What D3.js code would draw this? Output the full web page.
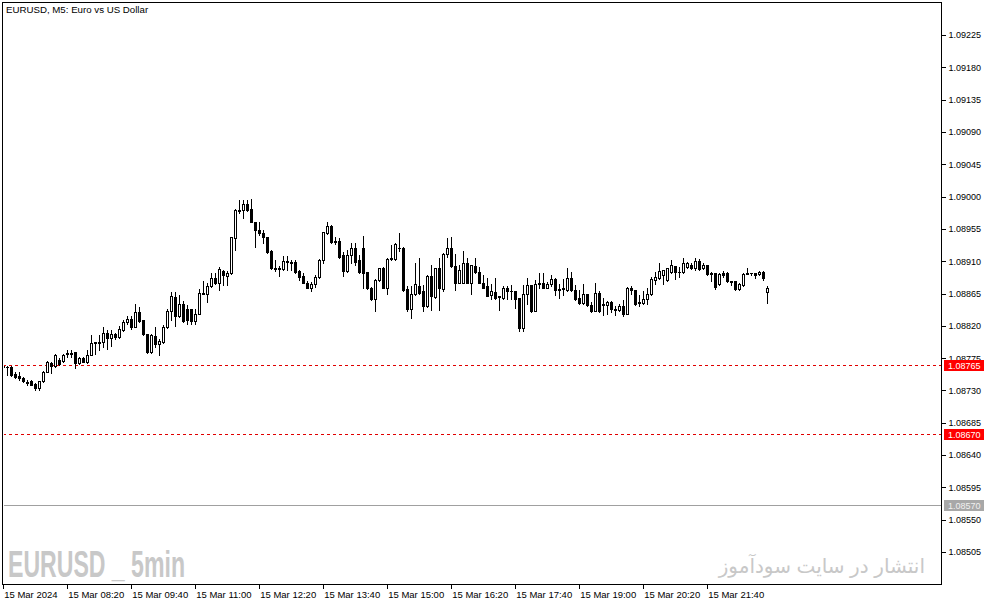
<!DOCTYPE html>
<html>
<head>
<meta charset="utf-8">
<script src="https://cdn.jsdelivr.net/npm/d3@7"></script>
<style>
  html, body { margin: 0; padding: 0; background: #ffffff; }
  svg { display: block; }
  text { font-family: "Liberation Sans", "DejaVu Sans", sans-serif; }
</style>
</head>
<body>
<svg id="chart" width="994" height="605"></svg>
<script>
// ---------------- data (EURUSD M5, 15 Mar 2024) ----------------
const chartTitle = "EURUSD, M5:  Euro vs US Dollar";
const startTime = new Date(2024, 2, 15, 7, 0);
const barMinutes = 5;

const openPrices = [
 1.08763,1.08763,1.08763,1.08753,1.08750,1.08748,1.08742,1.08743,1.08739,1.08734,
 1.08743,1.08756,1.08768,1.08764,1.08772,1.08771,1.08781,1.08782,1.08783,1.08768,
 1.08775,1.08770,1.08780,1.08796,1.08796,1.08798,1.08810,1.08803,1.08808,1.08804,
 1.08814,1.08825,1.08829,1.08818,1.08839,1.08828,1.08808,1.08783,1.08806,1.08795,
 1.08798,1.08818,1.08841,1.08860,1.08833,1.08850,1.08843,1.08843,1.08827,1.08837,
 1.08865,1.08865,1.08876,1.08887,1.08880,1.08896,1.08890,1.08893,1.08942,1.08981,
 1.08981,1.08990,1.08983,1.08964,1.08954,1.08949,1.08943,1.08924,1.08900,1.08900,
 1.08899,1.08910,1.08909,1.08909,1.08896,1.08889,1.08880,1.08873,1.08878,1.08888,
 1.08912,1.08949,1.08959,1.08938,1.08938,1.08918,1.08897,1.08918,1.08928,1.08911,
 1.08928,1.08895,1.08873,1.08857,1.08884,1.08900,1.08872,1.08913,1.08913,1.08929,
 1.08929,1.08871,1.08844,1.08864,1.08876,1.08868,1.08847,1.08889,1.08860,1.08900,
 1.08871,1.08920,1.08929,1.08903,1.08880,1.08880,1.08908,1.08880,1.08903,1.08895,
 1.08880,1.08875,1.08863,1.08867,1.08861,1.08859,1.08873,1.08869,1.08869,1.08859,
 1.08817,1.08865,1.08877,1.08841,1.08878,1.08879,1.08873,1.08878,1.08885,1.08871,
 1.08871,1.08870,1.08887,1.08870,1.08859,1.08852,1.08864,1.08849,1.08841,1.08866,
 1.08850,1.08849,1.08853,1.08843,1.08842,1.08847,1.08836,1.08873,1.08870,1.08853,
 1.08852,1.08857,1.08864,1.08884,1.08887,1.08891,1.08884,1.08895,1.08903,1.08895,
 1.08895,1.08902,1.08905,1.08900,1.08910,1.08900,1.08904,1.08893,1.08893,1.08878,
 1.08893,1.08893,1.08882,1.08882,1.08871,1.08877,1.08893,1.08893,1.08893,1.08892,
 1.08895,1.08867];

const highPrices = [
 1.08765,1.08764,1.08764,1.08755,1.08756,1.08749,1.08745,1.08744,1.08740,1.08743,
 1.08757,1.08771,1.08769,1.08781,1.08775,1.08781,1.08787,1.08786,1.08784,1.08777,
 1.08776,1.08786,1.08807,1.08798,1.08807,1.08818,1.08814,1.08814,1.08810,1.08820,
 1.08828,1.08833,1.08833,1.08850,1.08846,1.08828,1.08809,1.08809,1.08819,1.08802,
 1.08821,1.08843,1.08867,1.08867,1.08863,1.08854,1.08849,1.08844,1.08844,1.08871,
 1.08883,1.08879,1.08893,1.08893,1.08902,1.08898,1.08897,1.08944,1.08982,1.08995,
 1.08995,1.08995,1.08996,1.08965,1.08965,1.08953,1.08943,1.08925,1.08912,1.08903,
 1.08917,1.08917,1.08911,1.08911,1.08898,1.08893,1.08883,1.08881,1.08891,1.08913,
 1.08951,1.08964,1.08960,1.08944,1.08942,1.08923,1.08925,1.08936,1.08935,1.08918,
 1.08945,1.08895,1.08874,1.08885,1.08901,1.08902,1.08914,1.08932,1.08935,1.08949,
 1.08930,1.08875,1.08875,1.08907,1.08914,1.08877,1.08891,1.08905,1.08901,1.08914,
 1.08921,1.08942,1.08943,1.08920,1.08905,1.08924,1.08914,1.08905,1.08914,1.08902,
 1.08891,1.08887,1.08878,1.08886,1.08862,1.08875,1.08875,1.08877,1.08869,1.08859,
 1.08877,1.08886,1.08877,1.08884,1.08893,1.08893,1.08881,1.08891,1.08886,1.08878,
 1.08885,1.08901,1.08895,1.08877,1.08870,1.08878,1.08865,1.08853,1.08879,1.08868,
 1.08859,1.08855,1.08854,1.08847,1.08851,1.08856,1.08874,1.08875,1.08870,1.08863,
 1.08868,1.08872,1.08888,1.08895,1.08908,1.08898,1.08900,1.08912,1.08903,1.08902,
 1.08914,1.08909,1.08908,1.08914,1.08913,1.08908,1.08905,1.08895,1.08894,1.08893,
 1.08896,1.08895,1.08882,1.08882,1.08879,1.08893,1.08900,1.08894,1.08894,1.08897,
 1.08896,1.08875];

const lowPrices = [
 1.08762,1.08752,1.08750,1.08748,1.08745,1.08742,1.08738,1.08737,1.08731,1.08731,
 1.08742,1.08755,1.08754,1.08763,1.08766,1.08769,1.08777,1.08777,1.08761,1.08767,
 1.08769,1.08768,1.08779,1.08781,1.08786,1.08791,1.08788,1.08792,1.08802,1.08803,
 1.08813,1.08823,1.08815,1.08818,1.08826,1.08807,1.08782,1.08782,1.08791,1.08780,
 1.08796,1.08817,1.08828,1.08820,1.08832,1.08826,1.08822,1.08822,1.08822,1.08836,
 1.08864,1.08853,1.08874,1.08878,1.08870,1.08877,1.08877,1.08892,1.08925,1.08977,
 1.08970,1.08980,1.08965,1.08930,1.08947,1.08936,1.08922,1.08899,1.08897,1.08890,
 1.08898,1.08898,1.08898,1.08894,1.08884,1.08879,1.08872,1.08869,1.08874,1.08887,
 1.08907,1.08948,1.08936,1.08934,1.08915,1.08890,1.08895,1.08907,1.08905,1.08894,
 1.08873,1.08871,1.08856,1.08841,1.08883,1.08872,1.08865,1.08911,1.08912,1.08924,
 1.08868,1.08841,1.08831,1.08863,1.08865,1.08841,1.08846,1.08842,1.08859,1.08842,
 1.08868,1.08916,1.08902,1.08870,1.08879,1.08879,1.08879,1.08864,1.08893,1.08879,
 1.08872,1.08861,1.08858,1.08857,1.08842,1.08858,1.08857,1.08857,1.08845,1.08813,
 1.08813,1.08851,1.08839,1.08840,1.08872,1.08872,1.08872,1.08875,1.08863,1.08859,
 1.08863,1.08869,1.08869,1.08856,1.08851,1.08851,1.08848,1.08839,1.08840,1.08839,
 1.08835,1.08836,1.08839,1.08835,1.08841,1.08834,1.08836,1.08865,1.08849,1.08847,
 1.08851,1.08850,1.08863,1.08878,1.08885,1.08878,1.08882,1.08893,1.08885,1.08888,
 1.08894,1.08901,1.08899,1.08898,1.08898,1.08899,1.08891,1.08882,1.08871,1.08877,
 1.08888,1.08881,1.08877,1.08870,1.08870,1.08876,1.08892,1.08891,1.08886,1.08891,
 1.08884,1.08852];

const closePrices = [
 1.08764,1.08762,1.08752,1.08749,1.08747,1.08743,1.08741,1.08738,1.08734,1.08743,
 1.08756,1.08769,1.08764,1.08779,1.08767,1.08780,1.08782,1.08781,1.08768,1.08775,
 1.08770,1.08780,1.08796,1.08797,1.08798,1.08810,1.08803,1.08808,1.08805,1.08815,
 1.08825,1.08829,1.08818,1.08839,1.08827,1.08808,1.08783,1.08807,1.08795,1.08799,
 1.08818,1.08841,1.08862,1.08833,1.08851,1.08827,1.08828,1.08827,1.08837,1.08866,
 1.08866,1.08876,1.08887,1.08880,1.08899,1.08891,1.08894,1.08943,1.08981,1.08980,
 1.08990,1.08981,1.08965,1.08954,1.08949,1.08943,1.08923,1.08900,1.08899,1.08899,
 1.08910,1.08909,1.08908,1.08895,1.08888,1.08880,1.08873,1.08878,1.08888,1.08912,
 1.08950,1.08959,1.08937,1.08937,1.08916,1.08897,1.08918,1.08929,1.08909,1.08895,
 1.08894,1.08872,1.08857,1.08884,1.08900,1.08872,1.08913,1.08914,1.08934,1.08929,
 1.08870,1.08844,1.08865,1.08878,1.08866,1.08848,1.08889,1.08862,1.08900,1.08872,
 1.08920,1.08929,1.08903,1.08880,1.08898,1.08908,1.08880,1.08904,1.08895,1.08880,
 1.08873,1.08862,1.08868,1.08859,1.08860,1.08872,1.08869,1.08868,1.08858,1.08817,
 1.08865,1.08877,1.08841,1.08878,1.08879,1.08873,1.08878,1.08885,1.08870,1.08870,
 1.08872,1.08887,1.08870,1.08857,1.08852,1.08864,1.08849,1.08841,1.08866,1.08841,
 1.08849,1.08853,1.08843,1.08842,1.08847,1.08836,1.08873,1.08870,1.08851,1.08852,
 1.08857,1.08864,1.08885,1.08888,1.08896,1.08898,1.08900,1.08905,1.08895,1.08895,
 1.08907,1.08907,1.08900,1.08910,1.08899,1.08905,1.08892,1.08892,1.08874,1.08892,
 1.08891,1.08882,1.08881,1.08871,1.08878,1.08892,1.08892,1.08893,1.08891,1.08895,
 1.08886,1.08873];

const priceTicks = [1.09225,1.09180,1.09135,1.09090,1.09045,1.09000,1.08955,1.08910,1.08865,
                    1.08820,1.08775,1.08730,1.08685,1.08640,1.08595,1.08550,1.08505];
const timeTickHours = ["07:00","08:20","09:40","11:00","12:20","13:40","15:00","16:20","17:40","19:00","20:20","21:40"];
const timeTickLabels = ["15 Mar 2024","15 Mar 08:20","15 Mar 09:40","15 Mar 11:00","15 Mar 12:20","15 Mar 13:40",
                        "15 Mar 15:00","15 Mar 16:20","15 Mar 17:40","15 Mar 19:00","15 Mar 20:20","15 Mar 21:40"];
const levelPrices = [1.08765, 1.08670];   // dashed red levels
const levelLabels = ["1.08765", "1.08670"];
const grayLevelPrice = 1.08570;
const grayLevelLabel = "1.08570";
const watermarkLeft = "EURUSD _ 5min";
const watermarkRight = "انتشار در سایت سودآموز";

// ---------------- layout ----------------
const W = 994, H = 605;
const plot = { left: 3, top: 3, right: 941, bottom: 584 };
const svg = d3.select("#chart");

const bars = openPrices.map((o, i) => ({
  t: new Date(startTime.getTime() + i * barMinutes * 60000),
  o, h: highPrices[i], l: lowPrices[i], c: closePrices[i]
}));

// x: 4 px per 5-minute bar, 07:00 at x = 2.7
const endTime = new Date(startTime.getTime() + 235 * barMinutes * 60000);
const x = d3.scaleTime().domain([startTime, endTime]).range([2.7, 2.7 + 4 * 235]);
// y: price scale
const y = d3.scaleLinear().domain([1.08505, 1.09225]).range([552, 35]);

// clip
svg.append("defs").append("clipPath").attr("id", "clip")
  .append("rect").attr("x", plot.left + 1).attr("y", plot.top + 1)
  .attr("width", plot.right - plot.left - 1).attr("height", plot.bottom - plot.top - 1);

// watermarks
svg.append("text")
  .attr("x", 8).attr("y", 577)
  .attr("font-family", "'Liberation Sans Narrow', 'DejaVu Sans Condensed', sans-serif")
  .attr("font-weight", "bold").attr("font-size", 36)
  .attr("textLength", 177).attr("lengthAdjust", "spacingAndGlyphs")
  .attr("fill", "#c8c8c8").text(watermarkLeft);

svg.append("text")
  .attr("x", 925).attr("y", 573)
  .attr("font-family", "'DejaVu Sans', 'Noto Sans', sans-serif")
  .attr("font-size", 20).attr("direction", "rtl").attr("text-anchor", "start")
  .attr("fill", "#c8c8c8").text(watermarkRight);

// levels
const lv = svg.append("g").attr("clip-path", "url(#clip)").attr("shape-rendering", "crispEdges");
lv.selectAll("line.lvl").data(levelPrices).join("line")
  .attr("class", "lvl")
  .attr("x1", plot.left).attr("x2", plot.right)
  .attr("y1", d => Math.round(y(d)) + 0.5).attr("y2", d => Math.round(y(d)) + 0.5)
  .attr("stroke", "#e00000").attr("stroke-width", 1).attr("stroke-dasharray", "3,3");
lv.append("line")
  .attr("x1", plot.left).attr("x2", plot.right)
  .attr("y1", Math.round(y(grayLevelPrice)) + 0.5).attr("y2", Math.round(y(grayLevelPrice)) + 0.5)
  .attr("stroke", "#a0a0a0").attr("stroke-width", 1);

// candles
const cg = svg.append("g").attr("clip-path", "url(#clip)").attr("shape-rendering", "crispEdges");
const candle = cg.selectAll("g.candle").data(bars).join("g").attr("class", "candle");
candle.append("line")
  .attr("x1", d => Math.round(x(d.t)) + 0.5).attr("x2", d => Math.round(x(d.t)) + 0.5)
  .attr("y1", d => Math.round(y(d.h))).attr("y2", d => Math.round(y(d.l)) + 1)
  .attr("stroke", "#000");
candle.each(function(d) {
  const g = d3.select(this);
  const cx = Math.round(x(d.t));
  const yT = Math.round(y(Math.max(d.o, d.c)));
  const yB = Math.round(y(Math.min(d.o, d.c)));
  if (yB - yT < 1) {
    g.append("line").attr("x1", cx - 1).attr("x2", cx + 2)
      .attr("y1", yT + 0.5).attr("y2", yT + 0.5).attr("stroke", "#000");
  } else {
    g.append("rect").attr("x", cx - 0.5).attr("y", yT + 0.5)
      .attr("width", 2).attr("height", yB - yT)
      .attr("fill", d.c < d.o ? "#000" : "#fff").attr("stroke", "#000");
  }
});

// frame
svg.append("rect").attr("x", plot.left - 0.5).attr("y", plot.top - 0.5)
  .attr("width", plot.right - plot.left + 1).attr("height", plot.bottom - plot.top + 1)
  .attr("fill", "none").attr("stroke", "#000").attr("shape-rendering", "crispEdges");

// price axis
const yAxis = d3.axisRight(y).tickValues(priceTicks).tickSize(4).tickPadding(3)
  .tickFormat(d3.format(".5f"));
const ya = svg.append("g").attr("transform", `translate(${plot.right + 0.5},0)`).call(yAxis);
ya.select(".domain").remove();
ya.selectAll("line").attr("shape-rendering", "crispEdges");
ya.selectAll("text").attr("font-family", "'Liberation Sans', sans-serif").attr("font-size", 9).attr("fill", "#000");

// time axis
const parseHM = s => { const [hh, mm] = s.split(":").map(Number); return new Date(2024, 2, 15, hh, mm); };
const tickTimes = timeTickHours.map(parseHM);
const xAxis = d3.axisBottom(x).tickValues(tickTimes).tickSize(5).tickPadding(2)
  .tickFormat((d, i) => timeTickLabels[i]);
const xa = svg.append("g").attr("transform", `translate(0,${plot.bottom})`).call(xAxis);
xa.select(".domain").remove();
xa.selectAll("line").attr("shape-rendering", "crispEdges");
xa.selectAll("text").attr("text-anchor", "start").attr("x", 1).attr("y", 7)
  .attr("font-family", "'Liberation Sans', sans-serif").attr("font-size", 9.5).attr("fill", "#000");

// price labels on axis
const tags = [
  ...levelPrices.map((p, i) => ({ p, label: levelLabels[i], fill: "#ff0000", color: "#fff" })),
  { p: grayLevelPrice, label: grayLevelLabel, fill: "#a8a8a8", color: "#f0f0f0" }
];
const tg = svg.append("g").selectAll("g").data(tags).join("g")
  .attr("transform", d => `translate(944,${Math.round(y(d.p))})`);
tg.append("rect").attr("x", 0).attr("y", -5).attr("width", 40).attr("height", 11)
  .attr("fill", d => d.fill).attr("shape-rendering", "crispEdges");
tg.append("text").attr("x", 4).attr("y", 4).attr("font-size", 9)
  .attr("font-family", "'Liberation Sans', sans-serif")
  .attr("fill", d => d.color).text(d => d.label);

// title
svg.append("text").attr("x", 6).attr("y", 13).attr("font-size", 9.7)
  .attr("fill", "#000").text(chartTitle);
</script>
</body>
</html>
